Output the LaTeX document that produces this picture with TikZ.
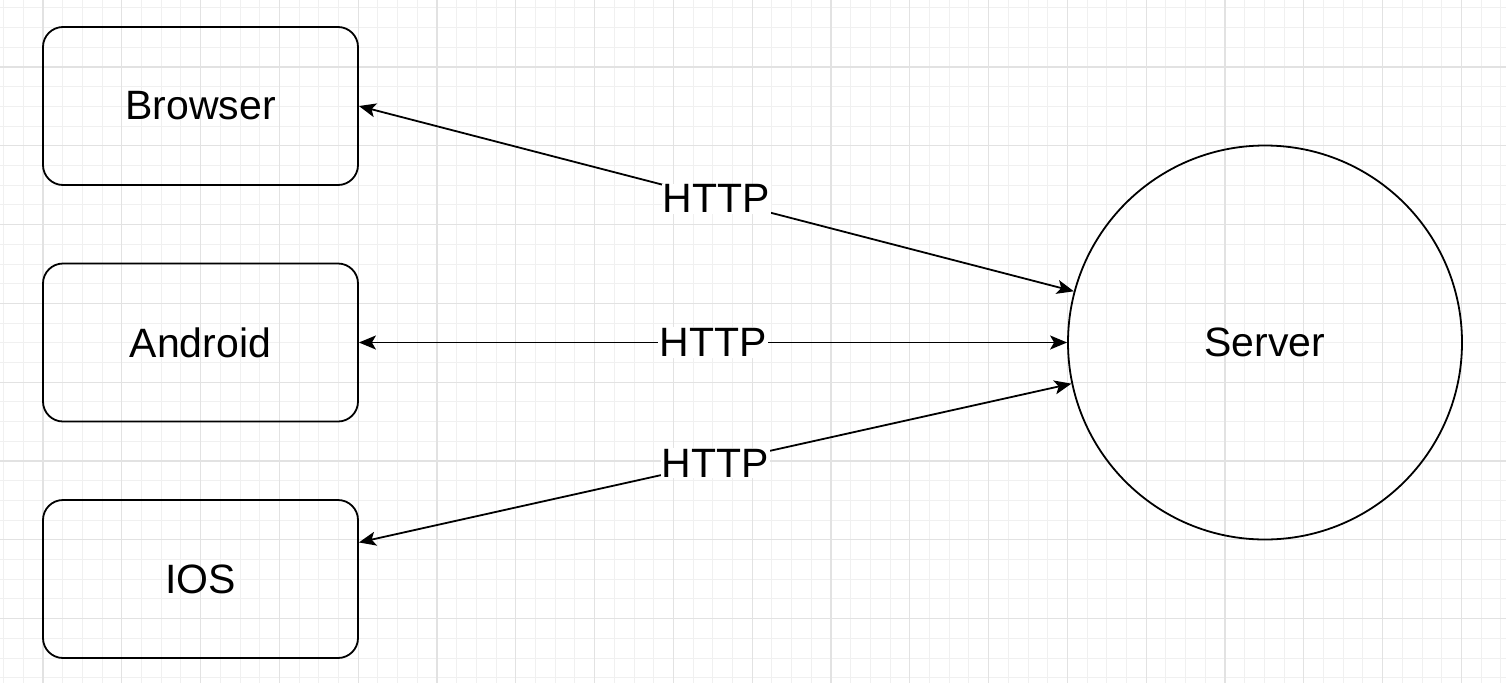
\documentclass[tikz,border=0pt]{standalone}
\usepackage{fontspec}
\setmainfont{Liberation Sans}
\usetikzlibrary{arrows.meta}
\definecolor{gridminor}{RGB}{240,240,240}
\definecolor{gridmajor}{RGB}{226,226,226}
\tikzset{
  client/.style={draw, line width=1.8pt, rounded corners=20pt, minimum width=315pt, minimum height=158pt, font=\fontsize{41}{48}\selectfont},
  host/.style={draw, line width=1.8pt, circle, inner sep=0pt, minimum size=394pt, font=\fontsize{41}{48}\selectfont},
  link/.style={line width=1.8pt, {Stealth[length=17pt,width=14pt,inset=4pt]}-{Stealth[length=17pt,width=14pt,inset=4pt]}},
  proto/.style={fill=white, inner sep=1pt, font=\fontsize{41}{48}\selectfont}
}
\begin{document}
\begin{tikzpicture}[x=1pt,y=-1pt]
  \fill[white] (0,0) rectangle (1506,683);
  \useasboundingbox (0,0) rectangle (1506,683);
  % grid
  \foreach \i in {0,...,76}
    \draw[gridminor, line width=1pt] ({3.6+19.7*\i},0) -- ({3.6+19.7*\i},683);
  \foreach \j in {0,...,34}
    \draw[gridminor, line width=1pt] (0,{7.9+19.7*\j}) -- (1506,{7.9+19.7*\j});
  \foreach \i in {0,...,18}
    \draw[gridmajor, line width=1.2pt] ({43+78.8*\i},0) -- ({43+78.8*\i},683);
  \foreach \j in {0,...,7}
    \draw[gridmajor, line width=1.2pt] (0,{67+78.8*\j}) -- (1506,{67+78.8*\j});
  % clients and server
  \node[client] (browser) at (200.5,106) {Browser};
  \node[client] (android) at (200.5,342.5) {Android};
  \node[client] (ios) at (200.5,579) {IOS};
  \node[host] (server) at (1265,342.5) {Server};
  % connections
  \draw[link] (browser.east) -- node[proto] {HTTP} (server.165.8);
  \draw[link] (android.east) -- node[proto] {HTTP} (server.180);
  \draw[link] (ios.13) -- node[proto] {HTTP} (server.192.3);
\end{tikzpicture}
\end{document}
